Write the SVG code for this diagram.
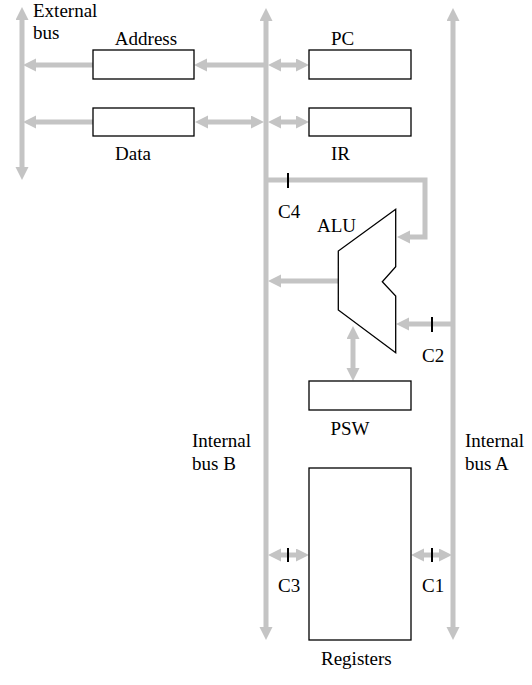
<svg xmlns="http://www.w3.org/2000/svg" width="532" height="685" viewBox="0 0 532 685">
<style>
.bus{stroke:#c4c4c4;stroke-width:5;fill:none}
.box{fill:#fff;stroke:#000;stroke-width:1.3}
.tick{stroke:#000;stroke-width:2}
.t{font-family:"Liberation Serif","Times New Roman",serif;font-size:19px;fill:#000}
</style>
<defs>
<marker id="ah" markerUnits="userSpaceOnUse" markerWidth="14" markerHeight="14" refX="3" refY="6.5" orient="auto-start-reverse">
<path d="M0,0 L13,6.5 L0,13 z" fill="#c4c4c4"/>
</marker>
</defs>
<rect width="532" height="685" fill="#fff"/>
<g id="connectors">
<line class="bus" x1="22" y1="17" x2="22" y2="170" marker-start="url(#ah)" marker-end="url(#ah)"/>
<line class="bus" x1="266" y1="18" x2="266" y2="630" marker-start="url(#ah)" marker-end="url(#ah)"/>
<line class="bus" x1="453" y1="18" x2="453" y2="630" marker-start="url(#ah)" marker-end="url(#ah)"/>
<line class="bus" x1="93" y1="65" x2="33" y2="65" marker-end="url(#ah)"/>
<line class="bus" x1="266" y1="65" x2="204" y2="65" marker-end="url(#ah)"/>
<line class="bus" x1="33" y1="122" x2="183" y2="122" marker-start="url(#ah)" marker-end="url(#ah)"/>
<line class="bus" x1="205" y1="122" x2="254" y2="122" marker-start="url(#ah)" marker-end="url(#ah)"/>
<line class="bus" x1="278" y1="65" x2="299" y2="65" marker-start="url(#ah)" marker-end="url(#ah)"/>
<line class="bus" x1="278" y1="122" x2="299" y2="122" marker-start="url(#ah)" marker-end="url(#ah)"/>
<path class="bus" d="M266,180 H425 V237 H407" marker-end="url(#ah)"/>
<line class="bus" x1="338" y1="281" x2="278" y2="281" marker-end="url(#ah)"/>
<line class="bus" x1="453" y1="324" x2="406" y2="324" marker-end="url(#ah)"/>
<line class="bus" x1="353" y1="336" x2="353" y2="371" marker-start="url(#ah)" marker-end="url(#ah)"/>
<line class="bus" x1="278" y1="555" x2="299" y2="555" marker-start="url(#ah)" marker-end="url(#ah)"/>
<line class="bus" x1="421" y1="555" x2="442" y2="555" marker-start="url(#ah)" marker-end="url(#ah)"/>
<line class="tick" x1="288" y1="173" x2="288" y2="188"/>
<line class="tick" x1="432" y1="317" x2="432" y2="332"/>
<line class="tick" x1="288" y1="548" x2="288" y2="562"/>
<line class="tick" x1="432" y1="548" x2="432" y2="562"/>
</g>
<g class="t">
<g id="external-bus"><text x="33" y="17">External</text><text x="33" y="39">bus</text></g>
<g id="address"><rect class="box" x="93" y="50" width="101" height="29"/><text x="146" y="45" text-anchor="middle">Address</text></g>
<g id="data"><rect class="box" x="93" y="108" width="101" height="28"/><text x="115" y="160">Data</text></g>
<g id="pc"><rect class="box" x="309" y="50" width="102" height="29"/><text x="331" y="45">PC</text></g>
<g id="ir"><rect class="box" x="309" y="108" width="102" height="28"/><text x="331" y="160">IR</text></g>
<g id="alu"><path d="M395.7,209.3 L338.3,251 L338.3,310 L395.7,352.7 L395.7,296 L382.3,281.7 L395.7,266.7 Z" fill="#fff" stroke="#000" stroke-width="1.3"/><text x="317" y="232">ALU</text></g>
<g id="psw"><rect class="box" x="309" y="381" width="102" height="29"/><text x="350" y="435" text-anchor="middle">PSW</text></g>
<g id="registers"><rect class="box" x="309" y="468" width="102" height="172"/><text x="321" y="665">Registers</text></g>
<g id="labels">
<text x="278" y="218">C4</text>
<text x="422" y="362">C2</text>
<text x="278" y="592">C3</text>
<text x="422" y="592">C1</text>
<text x="192" y="447">Internal</text><text x="192" y="470">bus B</text>
<text x="465" y="447">Internal</text><text x="465" y="470">bus A</text>
</g>
</g>
</svg>
